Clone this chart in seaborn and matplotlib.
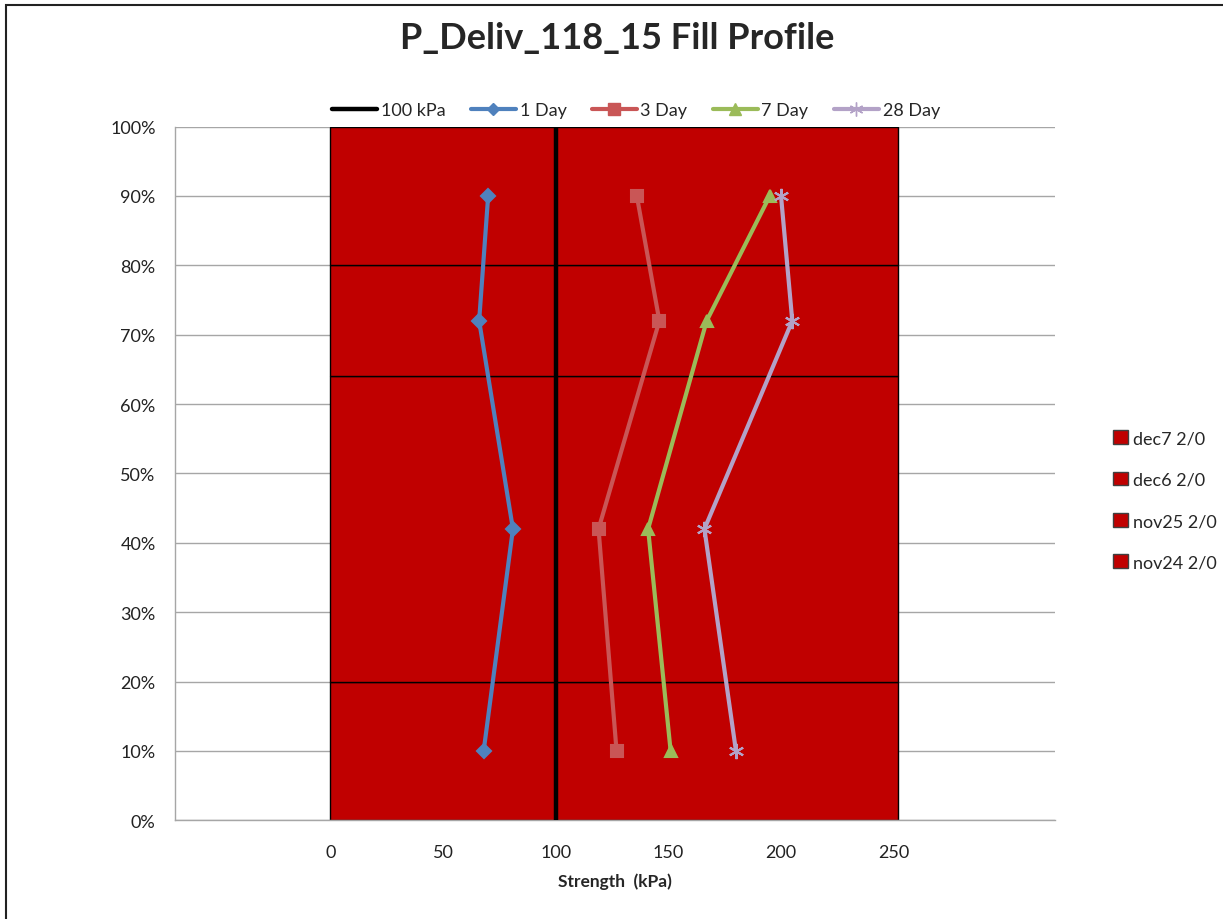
import matplotlib
matplotlib.use("Agg")
import matplotlib.pyplot as plt
from matplotlib.lines import Line2D
from matplotlib.patches import Patch, Rectangle
import pandas as pd
import seaborn as sns

# Depth positions of the test points (% of fill height)
depth_pct = [10, 42, 72, 90]

# Strength at each depth (kPa)
day1 = [68, 81, 66, 70]
day3 = [127, 119, 146, 136]
day7 = [151, 141, 167, 195]
day28 = [180, 166, 205, 200]

series_names = ["1 Day", "3 Day", "7 Day", "28 Day"]
series_colors = ["#4F81BD", "#C95656", "#9BBB59", "#B3A2C7"]

# Fill lifts (bottom to top) and their thickness in % of height
lift_names = ["nov24 2/0", "nov25 2/0", "dec6 2/0", "dec7 2/0"]
lift_thickness = [20, 44, 16, 20]
lift_width = 252

# 100 kPa design target
target_x = [100, 100]
target_y = [0, 100]

x_ticks = [0, 50, 100, 150, 200, 250]
y_ticks = [0, 10, 20, 30, 40, 50, 60, 70, 80, 90, 100]

sns.set_theme(style="white")
plt.rcParams["font.family"] = ["Lato", "DejaVu Sans"]

fig = plt.figure(figsize=(12.23, 9.2), dpi=100)
ax = fig.add_axes([0.1431, 0.1072, 0.7195, 0.7541])

# horizontal gridlines behind everything
ax.set_axisbelow(True)
ax.yaxis.grid(True, color="#A6A6A6", linewidth=1.0)
ax.xaxis.grid(False)

# stacked fill lifts
bottom = 0
lift_handles = []
for name, t in zip(lift_names, lift_thickness):
    ax.bar(0, t, bottom=bottom, width=lift_width, align="edge",
           color="#C00000", edgecolor="black", linewidth=1.0, zorder=2)
    bottom += t
    lift_handles.append(Patch(facecolor="#C00000", edgecolor="#404040",
                              linewidth=1.0, label=name))

# target line
ax.plot(target_x, target_y, color="black", linewidth=3.2, zorder=3,
        solid_capstyle="butt")

# strength profiles
frames = []
for name, vals in zip(series_names, [day1, day3, day7, day28]):
    frames.append(pd.DataFrame({"strength": vals, "depth": depth_pct,
                                "series": name}))
df = pd.concat(frames, ignore_index=True)

markers = {"1 Day": "D", "3 Day": "s", "7 Day": "^", "28 Day": (6, 2, 0)}
palette = dict(zip(series_names, series_colors))
sizes = {"1 Day": 7, "3 Day": 9, "7 Day": 9, "28 Day": 11}

for name in series_names:
    sub = df[df["series"] == name]
    sns.lineplot(data=sub, x="strength", y="depth", ax=ax, sort=False,
                 estimator=None, color=palette[name], marker=markers[name],
                 markersize=sizes[name], markeredgecolor=palette[name],
                 markeredgewidth=1.5, linewidth=3, zorder=4, legend=False)

ax.set_xlim(-69, 321.6)
ax.set_ylim(0, 100)
ax.set_xticks(x_ticks)
ax.set_xticklabels([str(v) for v in x_ticks])
ax.set_yticks(y_ticks)
ax.set_yticklabels([f"{v}%" for v in y_ticks])
ax.tick_params(axis="both", length=0, labelsize=13, colors="#222222")
ax.tick_params(axis="x", pad=17)
ax.tick_params(axis="y", pad=14)
ax.set_xlabel("Strength  (kPa)", fontsize=12.5, fontweight="bold", labelpad=9)
ax.set_ylabel("")

for side in ["top", "right"]:
    ax.spines[side].set_visible(False)
for side in ["left", "bottom"]:
    ax.spines[side].set_color("#A6A6A6")
    ax.spines[side].set_linewidth(1.0)

fig.suptitle("P_Deliv_118_15 Fill Profile", fontsize=26, fontweight="bold",
             y=0.976, x=0.505, va="top")

# top legend for the strength series
line_handles = [Line2D([], [], color="black", linewidth=3.2, label="100 kPa")]
for name in series_names:
    line_handles.append(Line2D([], [], color=palette[name], linewidth=3,
                               marker=markers[name], markersize=sizes[name] - 1,
                               markeredgecolor=palette[name], label=name))
fig.legend(handles=line_handles, loc="center", ncol=5,
           bbox_to_anchor=(0.52, 0.879), frameon=False, fontsize=13,
           handlelength=2.5, handletextpad=0.2, columnspacing=1.4)

# right legend for the fill lifts (top lift first)
fig.legend(handles=lift_handles[::-1], loc="center left",
           bbox_to_anchor=(0.897, 0.455), frameon=False, fontsize=13,
           handlelength=0.8, handleheight=0.8, handletextpad=0.3,
           labelspacing=1.4)

# chart frame
fig.patches.append(Rectangle((0.0049, -0.05), 1.2, 0.9985 + 0.05 - 0.0049,
                             transform=fig.transFigure, fill=False,
                             edgecolor="#222222", linewidth=1.5))

fig.savefig("out.png", dpi=100)
